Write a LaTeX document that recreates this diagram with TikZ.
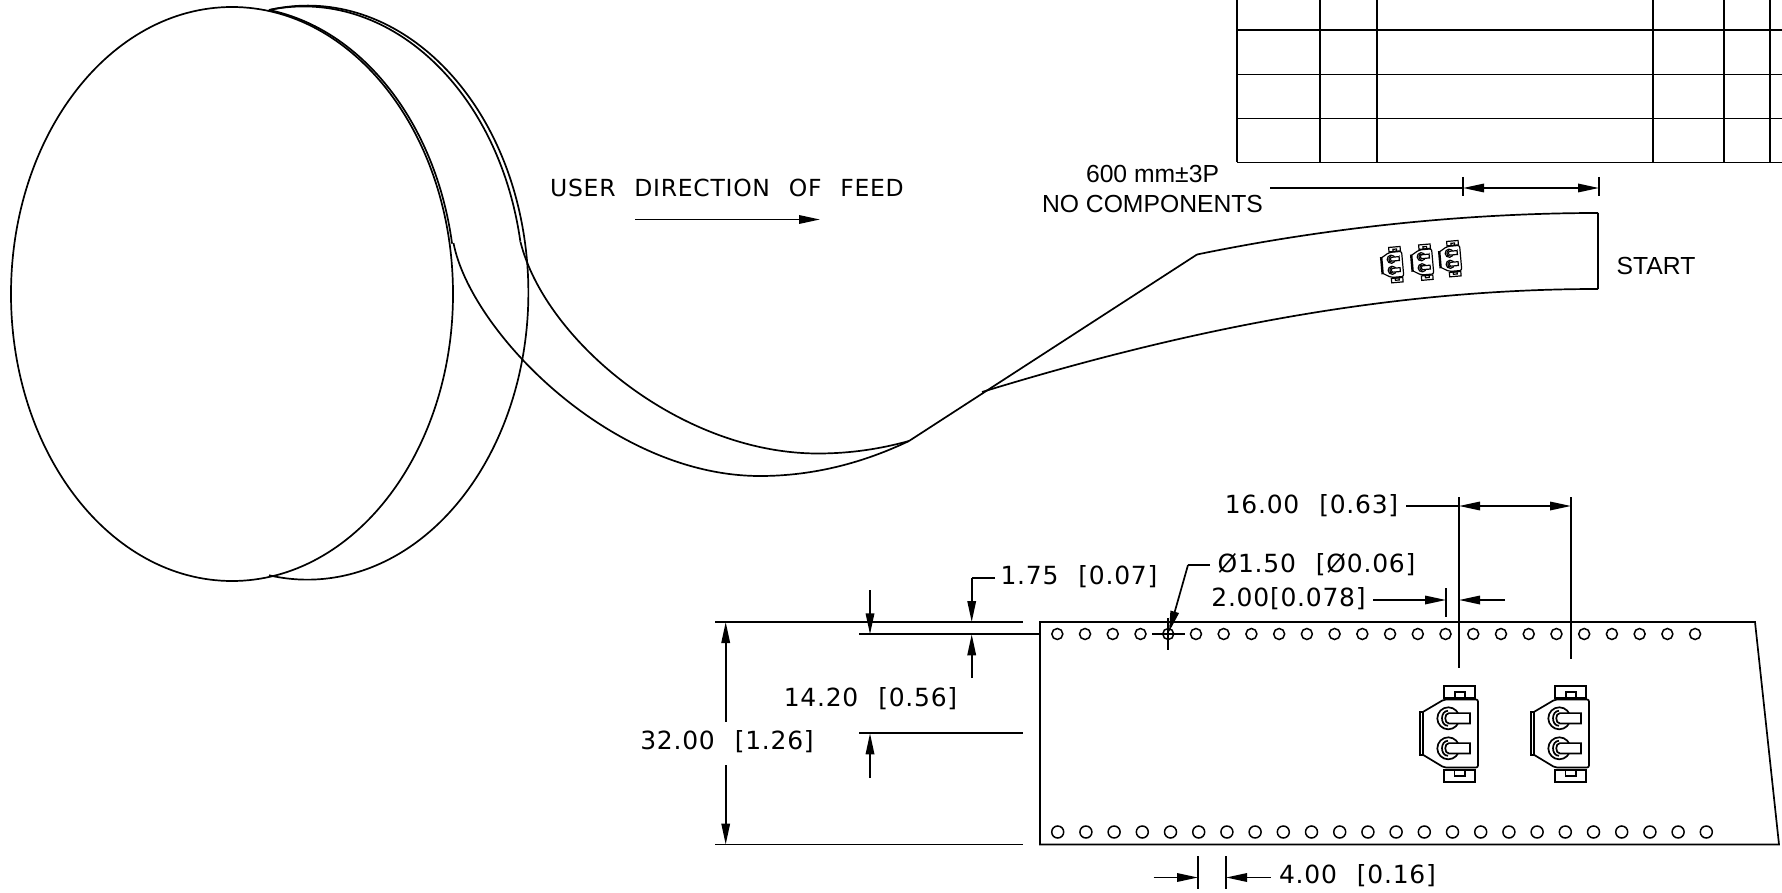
\documentclass[tikz,border=0pt]{standalone}
\usepackage{fontspec}
\setmainfont{Liberation Sans}
\newfontfamily\cadfont[LetterSpace=3,WordSpace=2.3]{DejaVu Sans}
\usetikzlibrary{arrows.meta}
\pgfdeclarelayer{edgelayer}
\pgfdeclarelayer{nodelayer}
\pgfsetlayers{edgelayer,nodelayer,main}
\tikzset{x=1pt,y=-1pt}
\tikzstyle{none}=[inner sep=0pt]
\tikzstyle{hole}=[circle,draw,inner sep=0pt,minimum size=11pt,line width=1.5pt]
\tikzstyle{plain}=[font=\fontsize{24.7pt}{29.5pt}\selectfont,inner sep=0pt]
\tikzstyle{cad}=[font=\fontsize{25pt}{27pt}\selectfont\cadfont,inner sep=0pt]
\tikzstyle{tip}=[-{Triangle[length=21pt,width=8.5pt]}]
\tikzstyle{tips}=[{Triangle[length=21pt,width=8.5pt]}-{Triangle[length=21pt,width=8.5pt]}]
\tikzset{tapepart/.pic={
	\draw (-29,-22.3) rectangle (-25.7,21);
	\draw [rounded corners=2pt] (-25.7,-22.3) to (-5,-34.5) to (29,-34.5) to (29,33.5) to (-5,33.5) to (-25.7,21);
	\draw (-5,-48) rectangle (26,-36);
	\draw (6,-42) rectangle (16,-36);
	\draw (-5,36) rectangle (26,48);
	\draw (5.5,36) rectangle (16,42);
	\foreach \yy in {-15.7,14.3} {
		\draw (-0.7,\yy) circle (11);
		\draw (-1,\yy-7.5) .. controls (-9,\yy-7.5) and (-9,\yy+7.5) .. (-1,\yy+7.5);
		\draw [fill=white] (21,\yy-5.2) to (0,\yy-5.2) .. controls (-5,\yy-5.2) and (-5,\yy+5.2) .. (0,\yy+5.2) to (21,\yy+5.2) to cycle;
	}
}}

\begin{document}
\begin{tikzpicture}
	\useasboundingbox (0,0) rectangle (1782,893);
	\begin{pgfonlayer}{nodelayer}
		% table
		\node [style=none] (0) at (1237, 0) {};
		\node [style=none] (1) at (1237, 162.5) {};
		\node [style=none] (2) at (1320, 0) {};
		\node [style=none] (3) at (1320, 162.5) {};
		\node [style=none] (4) at (1377, 0) {};
		\node [style=none] (5) at (1377, 162.5) {};
		\node [style=none] (6) at (1653, 0) {};
		\node [style=none] (7) at (1653, 162.5) {};
		\node [style=none] (8) at (1724, 0) {};
		\node [style=none] (9) at (1724, 162.5) {};
		\node [style=none] (10) at (1770, 0) {};
		\node [style=none] (11) at (1770, 162.5) {};
		\node [style=none] (12) at (1237, 30) {};
		\node [style=none] (13) at (1782, 30) {};
		\node [style=none] (14) at (1237, 74.5) {};
		\node [style=none] (15) at (1782, 74.5) {};
		\node [style=none] (16) at (1237, 118.5) {};
		\node [style=none] (17) at (1782, 118.5) {};
		\node [style=none] (18) at (1782, 162.5) {};
		% tape, top view
		\node [style=none] (20) at (453.5, 243) {};
		\node [style=none] (21) at (520.5, 242) {};
		\node [style=none] (22) at (909, 441) {};
		\node [style=none] (23) at (1197, 254.5) {};
		\node [style=none] (24) at (1598, 213) {};
		\node [style=none] (25) at (1598, 289) {};
		\node [style=none] (26) at (982, 392) {};
		% feed arrow
		\node [style=cad,font=\fontsize{23.5pt}{27pt}\selectfont\cadfont] (30) at (727, 187.5) {USER DIRECTION OF FEED};
		\node [style=none] (31) at (635, 219.5) {};
		\node [style=none] (32) at (820, 219.5) {};
		% leader 600 mm
		\node [style=plain,align=center] (33) at (1152.5, 189) {600 mm±3P\\NO COMPONENTS};
		\node [style=none] (34) at (1270, 188) {};
		\node [style=none] (35) at (1463, 188) {};
		\node [style=none] (36) at (1599, 188) {};
		\node [style=none] (37) at (1463, 177) {};
		\node [style=none] (38) at (1463, 196) {};
		\node [style=none] (39) at (1599, 177) {};
		\node [style=none] (40) at (1599, 196) {};
		\node [style=plain] (41) at (1656, 265.5) {START};
		% tape, front view
		\node [style=none] (50) at (1040, 622) {};
		\node [style=none] (51) at (1755, 622) {};
		\node [style=none] (52) at (1779, 844.5) {};
		\node [style=none] (53) at (1040, 844.5) {};
		\foreach \nn in {0,...,23} {
			\node [style=hole] (t\nn) at (1057.3+27.73*\nn, 634) {};
			\node [style=hole,minimum size=12pt] (b\nn) at (1057.7+28.2*\nn, 832) {};
		}
		% 32.00 and 14.20
		\node [style=none] (60) at (715, 622) {};
		\node [style=none] (61) at (1023, 622) {};
		\node [style=none] (62) at (859, 634.3) {};
		\node [style=none] (63) at (1040, 634.3) {};
		\node [style=none] (64) at (859, 733.3) {};
		\node [style=none] (65) at (1023, 733.3) {};
		\node [style=none] (66) at (715, 844.5) {};
		\node [style=none] (67) at (1023, 844.5) {};
		\node [style=none] (68) at (725.7, 622) {};
		\node [style=none] (69) at (725.7, 721.7) {};
		\node [style=none] (70) at (725.7, 765) {};
		\node [style=none] (71) at (725.7, 844.5) {};
		\node [style=cad] (72) at (727, 742) {32.00 [1.26]};
		\node [style=none] (73) at (870, 590) {};
		\node [style=none] (74) at (870, 634.3) {};
		\node [style=none] (75) at (870, 778) {};
		\node [style=none] (76) at (870, 733.3) {};
		\node [style=cad] (77) at (870.5, 699) {14.20 [0.56]};
		% 1.75
		\node [style=cad] (80) at (1079, 577) {1.75 [0.07]};
		\node [style=none] (81) at (995, 577.7) {};
		\node [style=none] (82) at (971.7, 577.7) {};
		\node [style=none] (83) at (971.7, 622) {};
		\node [style=none] (84) at (971.7, 678) {};
		\node [style=none] (85) at (971.7, 634.3) {};
		% hole callout
		\node [style=cad] (90) at (1316.5, 565) {Ø1.50 [Ø0.06]};
		\node [style=none] (91) at (1210, 565) {};
		\node [style=none] (92) at (1188, 565) {};
		\node [style=none] (93) at (1169, 632) {};
		\node [style=none] (94) at (1152, 634) {};
		\node [style=none] (95) at (1185, 634) {};
		\node [style=none] (96) at (1168, 618) {};
		\node [style=none] (97) at (1168, 650) {};
		% 2.00
		\node [style=cad] (100) at (1288.5, 599) {2.00[0.078]};
		\node [style=none] (101) at (1373, 600) {};
		\node [style=none] (102) at (1446, 600) {};
		\node [style=none] (103) at (1505, 600) {};
		\node [style=none] (104) at (1459, 600) {};
		\node [style=none] (105) at (1446, 588) {};
		\node [style=none] (106) at (1446, 617) {};
		% 16.00
		\node [style=cad] (110) at (1311.5, 505.6) {16.00 [0.63]};
		\node [style=none] (111) at (1406, 506) {};
		\node [style=none] (112) at (1459, 506) {};
		\node [style=none] (113) at (1571, 506) {};
		\node [style=none] (114) at (1459, 497) {};
		\node [style=none] (115) at (1459, 668) {};
		\node [style=none] (116) at (1571, 497) {};
		\node [style=none] (117) at (1571, 659) {};
		% 4.00
		\node [style=cad] (120) at (1357.5, 876) {4.00 [0.16]};
		\node [style=none] (121) at (1198, 856) {};
		\node [style=none] (122) at (1198, 889) {};
		\node [style=none] (123) at (1226, 856) {};
		\node [style=none] (124) at (1226, 889) {};
		\node [style=none] (125) at (1153.5, 877.5) {};
		\node [style=none] (126) at (1198, 877.5) {};
		\node [style=none] (127) at (1270.5, 877.5) {};
		\node [style=none] (128) at (1226, 877.5) {};
	\end{pgfonlayer}
	\begin{pgfonlayer}{edgelayer}
		\begin{scope}[line width=1.7pt]
		% table
		\draw (0.center) to (1.center);
		\draw (2.center) to (3.center);
		\draw (4.center) to (5.center);
		\draw (6.center) to (7.center);
		\draw (8.center) to (9.center);
		\draw (10.center) to (11.center);
		\draw (12.center) to (13.center);
		\draw (14.center) to (15.center);
		\draw (16.center) to (17.center);
		\draw (1.center) to (18.center);
		% reel and tape
		\draw (232, 294) ellipse (221 and 287);
		\draw (269, 10) arc [start angle=-100, end angle=100, x radius=221, y radius=287];
		\draw (269, 10) arc [start angle=-81, end angle=-10, x radius=221, y radius=287];
		\draw (269, 10) arc [start angle=-99, end angle=-10.4, x radius=220.5, y radius=287];
		\draw (20.center) .. controls (470, 330) and (610, 476) .. (760, 476) .. controls (815, 476) and (865, 462) .. (22.center);
		\draw (21.center) .. controls (545, 340) and (680, 453.5) .. (818, 453.5) .. controls (850, 453.5) and (880, 449) .. (22.center);
		\draw (22.center) to (23.center);
		\draw (23.center) .. controls (1330, 227) and (1470, 213) .. (24.center);
		\draw (24.center) to (25.center);
		\draw (26.center) .. controls (1200, 325) and (1400, 289) .. (25.center);
		\draw [style=tip] (31.center) to (32.center);
		\draw (34.center) to (35.center);
		\draw [style=tips] (35.center) to (36.center);
		\draw [line width=1.3pt] (37.center) to (38.center);
		\draw [line width=1.3pt] (39.center) to (40.center);
		% tape, front view
		\draw (50.center) to (51.center) to (52.center) to (53.center) to cycle;
		\draw (60.center) to (61.center);
		\draw (62.center) to (63.center);
		\draw (64.center) to (65.center);
		\draw (66.center) to (67.center);
		\draw [style=tip] (69.center) to (68.center);
		\draw [style=tip] (70.center) to (71.center);
		\draw [style=tip] (73.center) to (74.center);
		\draw [style=tip] (75.center) to (76.center);
		\draw (81.center) to (82.center);
		\draw [style=tip] (82.center) to (83.center);
		\draw [style=tip] (84.center) to (85.center);
		\draw (91.center) to (92.center);
		\draw [style=tip] (92.center) to (93.center);
		\draw [line width=1.5pt] (94.center) to (95.center);
		\draw [line width=1.5pt] (96.center) to (97.center);
		\draw [style=tip] (101.center) to (102.center);
		\draw [style=tip] (103.center) to (104.center);
		\draw [line width=1.3pt] (105.center) to (106.center);
		\draw (111.center) to (112.center);
		\draw [style=tips] (112.center) to (113.center);
		\draw (114.center) to (115.center);
		\draw (116.center) to (117.center);
		\draw [line width=1.5pt] (121.center) to (122.center);
		\draw [line width=1.5pt] (123.center) to (124.center);
		\draw [style=tip] (125.center) to (126.center);
		\draw [style=tip] (127.center) to (128.center);
		\end{scope}
	\end{pgfonlayer}
	\begin{scope}[line width=1.7pt]
		\pic at (1449, 734) {tapepart};
		\pic at (1560, 734) {tapepart};
	\end{scope}
	\begin{scope}[line width=1.2pt]
		\pic [scale=0.37,rotate=5] at (1392, 265) {tapepart};
		\pic [scale=0.37,rotate=5] at (1422, 262.5) {tapepart};
		\pic [scale=0.37,rotate=5] at (1450, 259) {tapepart};
	\end{scope}
\end{tikzpicture}
\end{document}
